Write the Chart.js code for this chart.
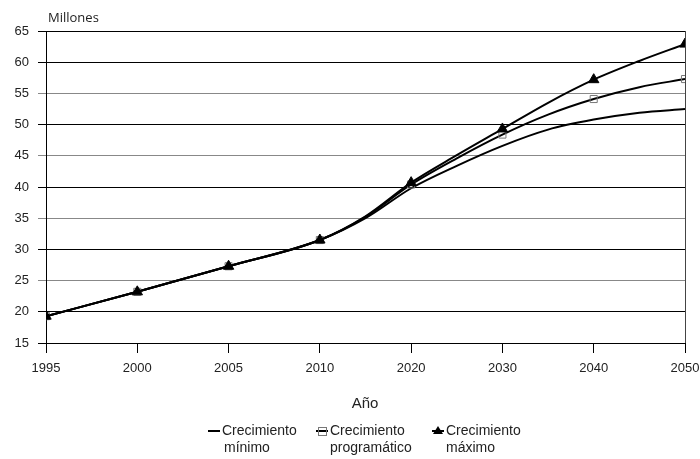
<!DOCTYPE html>
<html>
<head>
<meta charset="utf-8">
<script src="https://cdn.jsdelivr.net/npm/chart.js@4"></script>
<style>
  html, body { margin: 0; padding: 0; background: #fff; }
  #wrap { width: 700px; height: 459px; position: relative; }
</style>
</head>
<body>
<div id="wrap"><canvas id="c" width="700" height="459"></canvas></div>
<script>
// Labelled years on the horizontal axis (evenly spaced categories)
const tickYears = [1995, 2000, 2005, 2010, 2020, 2030, 2040, 2050];

// Years with data
const years = [1995, 2000, 2005, 2010, 2015, 2020, 2025, 2030, 2035, 2040, 2045, 2050];

// Population projections, millions
const crecimientoMinimo       = [19.3, 23.2, 27.3, 31.5, 35.0, 39.8, 43.4, 46.6, 49.2, 50.8, 51.9, 52.5];
const crecimientoProgramatico = [19.3, 23.2, 27.3, 31.5, 35.2, 40.4, 44.6, 48.4, 51.6, 54.1, 56.0, 57.3];
const crecimientoMaximo       = [19.3, 23.2, 27.3, 31.5, 35.3, 40.7, 45.1, 49.3, 53.5, 57.2, 60.2, 62.9];

const legendNames = [
  ['Crecimiento', 'mínimo'],
  ['Crecimiento', 'programático'],
  ['Crecimiento', 'máximo']
];

// place a year on the category axis: linear between neighbouring labelled years
function yearPos(y) {
  for (let i = 0; i < tickYears.length - 1; i++) {
    const a = tickYears[i], b = tickYears[i + 1];
    if (y >= a && y <= b) return i + (y - a) / (b - a);
  }
  return tickYears.length - 1;
}
const toPoints = vals => years.map((yr, i) => ({ x: yearPos(yr), y: vals[i] }));
const onTick = ctx => tickYears.includes(years[ctx.dataIndex]);

const FONT = "'Liberation Sans', Arial, sans-serif";

const extras = {
  id: 'extras',
  afterDraw(chart) {
    const { ctx, chartArea } = chart;
    ctx.save();
    // right frame line
    ctx.strokeStyle = '#444';
    ctx.lineWidth = 1;
    ctx.beginPath();
    ctx.moveTo(chartArea.right + 0.5, chartArea.top);
    ctx.lineTo(chartArea.right + 0.5, chartArea.bottom);
    ctx.stroke();

    // unit label
    ctx.fillStyle = '#222';
    ctx.font = "13px 'Open Sans', sans-serif";
    ctx.textBaseline = 'middle';
    ctx.textAlign = 'left';
    ctx.fillText('Millones', 48, 18);

    // axis title
    ctx.font = '15px ' + FONT;
    ctx.textAlign = 'center';
    ctx.fillText('Año', 365, 404);

    // legend
    const items = [
      { sx: 208, tx: 222, sym: 'line' },
      { sx: 316, tx: 330, sym: 'rect' },
      { sx: 432, tx: 446, sym: 'tri' }
    ];
    ctx.font = '14px ' + FONT;
    ctx.textAlign = 'left';
    items.forEach((it, i) => {
      const cy = 431;
      ctx.strokeStyle = '#000';
      ctx.lineWidth = 2;
      ctx.beginPath();
      ctx.moveTo(it.sx, cy);
      ctx.lineTo(it.sx + 12, cy);
      ctx.stroke();
      if (it.sym === 'rect') {
        ctx.strokeStyle = '#777';
        ctx.lineWidth = 1;
        ctx.strokeRect(it.sx + 2.5, cy - 3.5, 8, 8);
      } else if (it.sym === 'tri') {
        ctx.fillStyle = '#000';
        ctx.beginPath();
        ctx.moveTo(it.sx + 6, cy - 5);
        ctx.lineTo(it.sx + 11, cy + 3);
        ctx.lineTo(it.sx + 1, cy + 3);
        ctx.closePath();
        ctx.fill();
      }
      ctx.fillStyle = '#222';
      ctx.fillText(legendNames[i][0], it.tx, cy);
      ctx.fillText(legendNames[i][1], it.tx + (i === 0 ? 2 : 0), cy + 17);
    });
    ctx.restore();
  }
};

new Chart(document.getElementById('c'), {
  type: 'line',
  data: {
    datasets: [
      {
        label: 'Crecimiento mínimo',
        data: toPoints(crecimientoMinimo),
        borderColor: '#000',
        borderWidth: 2,
        pointRadius: 0,
        order: 2,
        cubicInterpolationMode: 'monotone'
      },
      {
        label: 'Crecimiento programático',
        data: toPoints(crecimientoProgramatico),
        borderColor: '#000',
        borderWidth: 2,
        pointStyle: 'rect',
        pointRadius: ctx => onTick(ctx) ? 5 : 0,
        pointBackgroundColor: 'rgba(255,255,255,0)',
        pointBorderColor: '#777',
        pointBorderWidth: 1,
        order: 1,
        cubicInterpolationMode: 'monotone'
      },
      {
        label: 'Crecimiento máximo',
        data: toPoints(crecimientoMaximo),
        borderColor: '#000',
        borderWidth: 2,
        pointStyle: 'triangle',
        pointRadius: ctx => onTick(ctx) ? 6 : 0,
        pointBackgroundColor: '#000',
        pointBorderColor: '#000',
        pointBorderWidth: 1,
        order: 0,
        cubicInterpolationMode: 'monotone'
      }
    ]
  },
  options: {
    responsive: false,
    animation: false,
    layout: { padding: { top: 31, right: 15, left: 0, bottom: 0 } },
    plugins: { legend: { display: false }, tooltip: { enabled: false } },
    scales: {
      x: {
        type: 'linear',
        min: 0,
        max: tickYears.length - 1,
        afterFit: s => { s.height = 116; s.paddingRight = 0; s.paddingLeft = 0; },
        afterBuildTicks: s => { s.ticks = tickYears.map((_, i) => ({ value: i })); },
        ticks: {
          callback: v => tickYears[v],
          font: { family: FONT, size: 13 },
          color: '#222',
          padding: 8,
          maxRotation: 0,
          autoSkip: false
        },
        grid: {
          drawOnChartArea: false,
          tickLength: 10,
          tickColor: '#000'
        },
        border: { color: '#000', width: 1 }
      },
      y: {
        min: 15,
        max: 65,
        afterFit: s => { s.width = 46; },
        ticks: {
          stepSize: 5,
          font: { family: FONT, size: 13 },
          color: '#222',
          padding: 9
        },
        grid: {
          color: c => (c.tick && [25, 35, 45, 55].includes(c.tick.value)) ? '#888' : '#000',
          tickLength: 8,
          tickColor: c => (c.tick && [25, 35, 45, 55].includes(c.tick.value)) ? '#888' : '#000'
        },
        border: { color: '#000', width: 1 }
      }
    }
  },
  plugins: [extras]
});
</script>
</body>
</html>
